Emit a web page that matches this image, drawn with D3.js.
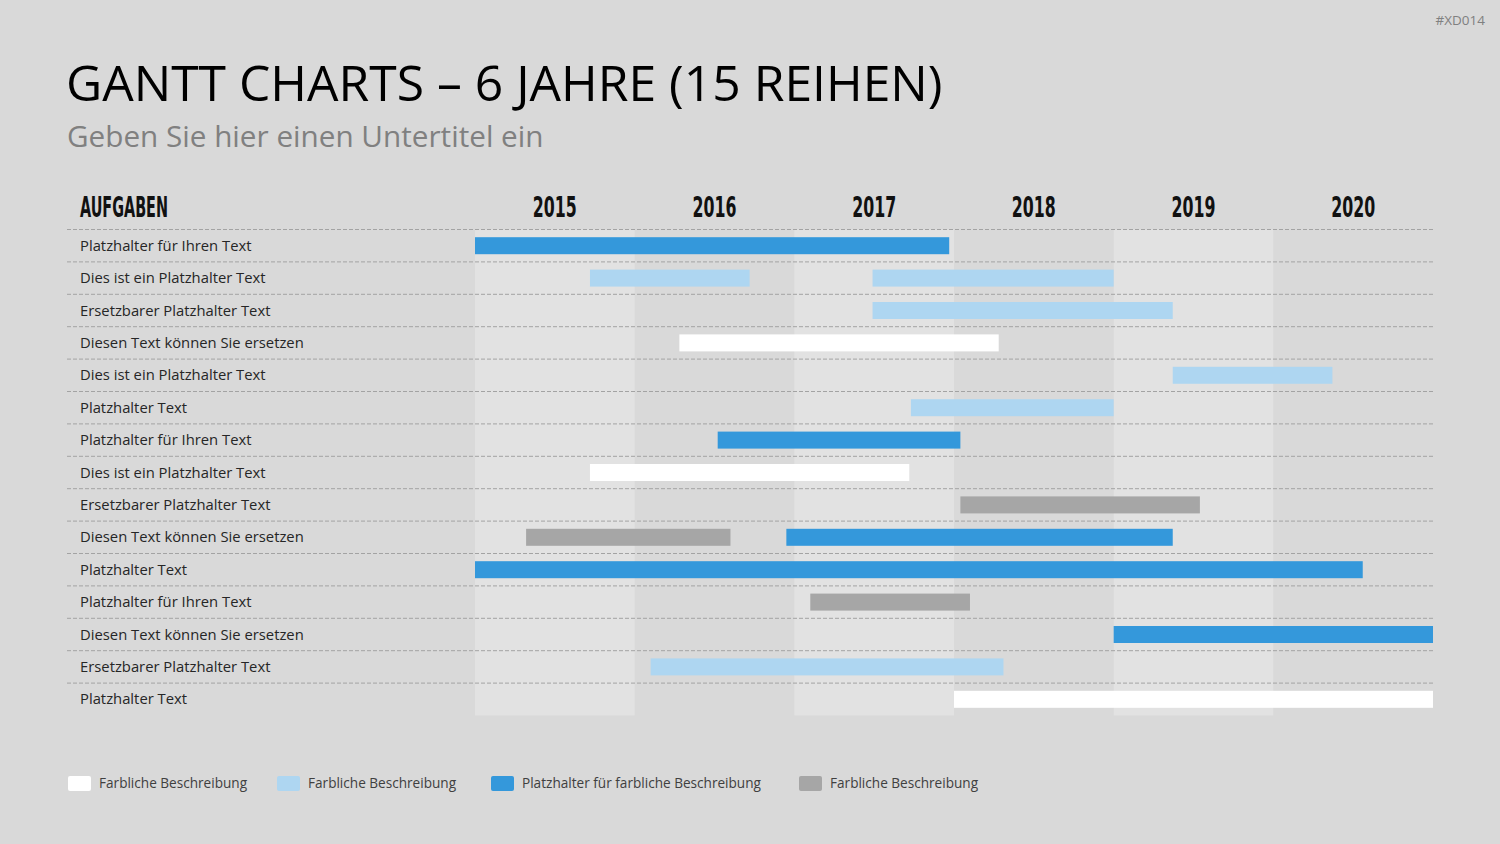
<!DOCTYPE html>
<html>
<head>
<meta charset="utf-8">
<script src="https://cdn.jsdelivr.net/npm/d3@7"></script>
<style>
  html, body { margin: 0; padding: 0; background: #d9d9d9; }
  svg { display: block; }
</style>
</head>
<body>
<div id="chart"></div>
<script>
// ---- Daten ----
const years = [2015, 2016, 2017, 2018, 2019, 2020];

const tasks = [
  "Platzhalter für Ihren Text",
  "Dies ist ein Platzhalter Text",
  "Ersetzbarer Platzhalter Text",
  "Diesen Text können Sie ersetzen",
  "Dies ist ein Platzhalter Text",
  "Platzhalter Text",
  "Platzhalter für Ihren Text",
  "Dies ist ein Platzhalter Text",
  "Ersetzbarer Platzhalter Text",
  "Diesen Text können Sie ersetzen",
  "Platzhalter Text",
  "Platzhalter für Ihren Text",
  "Diesen Text können Sie ersetzen",
  "Ersetzbarer Platzhalter Text",
  "Platzhalter Text"
];

// Balken: Zeile, Start, Ende (in Jahren), Kategorie
const barRow   = [0, 1, 1, 2, 3, 4, 5, 6, 7, 8, 9, 9, 10, 11, 12, 13, 14];
const barStart = [2015.0, 2015.72, 2017.49, 2017.49, 2016.28, 2019.37, 2017.73, 2016.52, 2015.72, 2018.04, 2015.32, 2016.95, 2015.0, 2017.1, 2019.0, 2016.1, 2018.0];
const barEnd   = [2017.97, 2016.72, 2019.0, 2019.37, 2018.28, 2020.37, 2019.0, 2018.04, 2017.72, 2019.54, 2016.6, 2019.37, 2020.56, 2018.1, 2021.0, 2018.31, 2021.0];
const barType  = [2, 1, 1, 1, 0, 1, 1, 2, 0, 3, 3, 2, 2, 3, 2, 1, 0];

const legendLabels = [
  "Farbliche Beschreibung",
  "Farbliche Beschreibung",
  "Platzhalter für farbliche Beschreibung",
  "Farbliche Beschreibung"
];
const typeColors = ["#ffffff", "#aed6f1", "#3498db", "#a6a6a6"];

// ---- Layout ----
const width = 1500, height = 844;
const svg = d3.select("#chart").append("svg")
  .attr("width", width).attr("height", height);

svg.append("rect").attr("width", width).attr("height", height).attr("fill", "#d9d9d9");

const x = d3.scaleLinear().domain([2015, 2021]).range([475, 1433]);
const y = d3.scaleBand().domain(d3.range(tasks.length)).range([229.5, 715.5]);
const barH = 17;

// Tag oben rechts
svg.append("text")
  .attr("x", 1485).attr("y", 25)
  .attr("text-anchor", "end")
  .style("font-family", "'Open Sans', sans-serif")
  .style("font-size", "13.5px")
  .attr("fill", "#808080")
  .text("#XD014");

// Titel und Untertitel
svg.append("text")
  .attr("x", 66).attr("y", 101)
  .style("font-family", "'Open Sans', sans-serif")
  .style("font-size", "49.8px")
  .attr("fill", "#000")
  .text("GANTT CHARTS – 6 JAHRE (15 REIHEN)");

svg.append("text")
  .attr("x", 67).attr("y", 147)
  .style("font-family", "'Open Sans', sans-serif")
  .style("font-size", "29.7px")
  .attr("fill", "#808080")
  .text("Geben Sie hier einen Untertitel ein");

// Hintergrundstreifen für die Jahre
svg.append("g").selectAll("rect")
  .data(years.filter((d, i) => i % 2 === 0))
  .join("rect")
  .attr("x", d => x(d))
  .attr("y", y.range()[0])
  .attr("width", d => x(d + 1) - x(d))
  .attr("height", y.range()[1] - y.range()[0])
  .attr("fill", "#e2e2e2");

// Kopfzeile (schmale, fette Schrift)
const headFont = "'DejaVu Sans Condensed', 'DejaVu Sans', sans-serif";
svg.append("text")
  .attr("x", 80).attr("y", 217)
  .style("font-family", headFont)
  .style("font-weight", "bold")
  .style("font-size", "29px")
  .attr("textLength", 88)
  .attr("lengthAdjust", "spacingAndGlyphs")
  .attr("fill", "#111")
  .text("AUFGABEN");

svg.append("g").selectAll("text")
  .data(years)
  .join("text")
  .attr("x", d => x(d + 0.5) - 22)
  .attr("y", 217)
  .style("font-family", headFont)
  .style("font-weight", "bold")
  .style("font-size", "29px")
  .attr("textLength", 44)
  .attr("lengthAdjust", "spacingAndGlyphs")
  .attr("fill", "#111")
  .text(d => d);

// Gestrichelte Zeilenlinien
svg.append("g").selectAll("line")
  .data(d3.range(tasks.length))
  .join("line")
  .attr("x1", 67).attr("x2", 1433)
  .attr("y1", d => y(d)).attr("y2", d => y(d))
  .attr("stroke", "#a3a3a3")
  .attr("stroke-width", 1)
  .attr("stroke-dasharray", "4,2");

// Aufgabentexte
svg.append("g").selectAll("text")
  .data(tasks)
  .join("text")
  .attr("x", 80)
  .attr("y", (d, i) => y(i) + y.bandwidth() / 2)
  .attr("dy", "0.35em")
  .style("font-family", "'Open Sans', sans-serif")
  .style("font-size", "14.8px")
  .attr("fill", "#262626")
  .text(d => d);

// Balken
svg.append("g").selectAll("rect")
  .data(d3.range(barRow.length))
  .join("rect")
  .attr("x", i => x(barStart[i]))
  .attr("y", i => y(barRow[i]) + (y.bandwidth() - barH) / 2)
  .attr("width", i => x(barEnd[i]) - x(barStart[i]))
  .attr("height", barH)
  .attr("fill", i => typeColors[barType[i]]);

// Legende
const legendX = [68, 277, 491, 799];
const legend = svg.append("g").selectAll("g")
  .data(legendLabels)
  .join("g")
  .attr("transform", (d, i) => `translate(${legendX[i]}, 776)`);

legend.append("rect")
  .attr("width", 23).attr("height", 15)
  .attr("rx", 2)
  .attr("fill", (d, i) => typeColors[i]);

legend.append("text")
  .attr("x", 31).attr("y", 7.5)
  .attr("dy", "0.35em")
  .style("font-family", "'Open Sans', sans-serif")
  .style("font-size", "13.6px")
  .attr("fill", "#404040")
  .text(d => d);
</script>
</body>
</html>
